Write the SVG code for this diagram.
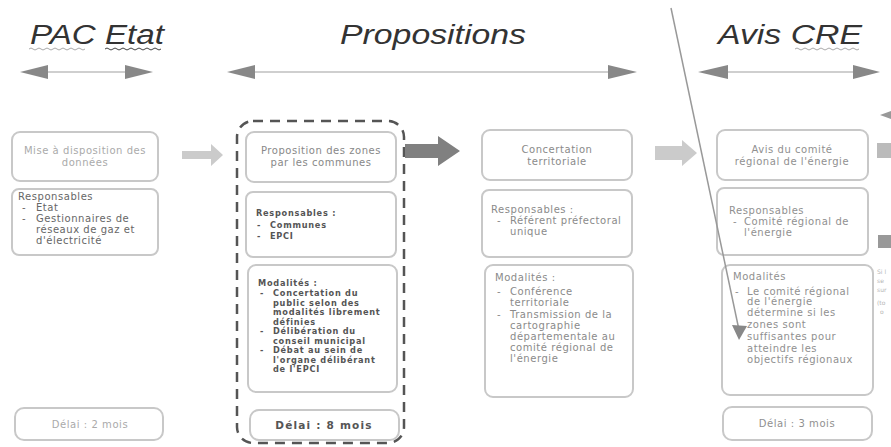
<svg xmlns="http://www.w3.org/2000/svg" width="891" height="447" viewBox="0 0 891 447">
<style>
.hdr{font-family:"Liberation Sans",Arial,sans-serif;font-style:italic;font-size:27px;fill:#333}
.t{font-family:"DejaVu Sans","Noto Sans",sans-serif;font-size:10px;letter-spacing:0.55px}
.box{fill:#fff;stroke:#c8c8c8;stroke-width:2}
.c1{fill:#aaa}
.c1b{fill:#666}
.c2{fill:#555;font-weight:bold;font-size:8.2px;letter-spacing:0.75px}
.c2d{fill:#555;font-weight:bold;font-size:10.5px;letter-spacing:1.2px}
.c2t{fill:#888}
.c3{fill:#8a8a8a}
.c4{fill:#909090}
.mid{text-anchor:middle}
.head{fill:#888}
.hline{stroke:#cfcfcf;stroke-width:2}
.wave{fill:none;stroke-width:1}
</style>
<rect width="891" height="447" fill="#fff"/>

<g id="headers">
<text class="hdr" x="30" y="44" textLength="134" lengthAdjust="spacingAndGlyphs">PAC Etat</text>
<path class="wave" stroke="#aaa" d="M29,49 q2,-2 4,0 t4,0 t4,0 t4,0 t4,0 t4,0 t4,0 t4,0 t4,0 t4,0 t4,0 t4,0 t4,0 t4,0"/>
<path class="wave" stroke="#444" d="M105,49 q2,-2 4,0 t4,0 t4,0 t4,0 t4,0 t4,0 t4,0 t4,0 t4,0 t4,0 t4,0 t4,0 t4,0 t4,0"/>
<text class="hdr" x="340" y="44" textLength="186" lengthAdjust="spacingAndGlyphs">Propositions</text>
<text class="hdr" x="718" y="44" textLength="144" lengthAdjust="spacingAndGlyphs">Avis CRE</text>
<path class="wave" stroke="#aaa" d="M795,49 q2,-2 4,0 t4,0 t4,0 t4,0 t4,0 t4,0 t4,0 t4,0 t4,0 t4,0 t4,0 t4,0 t4,0 t4,0 t4,0 t4,0"/>
</g>

<g id="pac-etat">
<rect class="box" x="12" y="132" width="146" height="49" rx="8"/>
<text class="t c1 mid" x="85" y="154">Mise à disposition des</text>
<text class="t c1 mid" x="85" y="166">données</text>
<rect class="box" x="12" y="189" width="146" height="66" rx="7"/>
<text class="t c1b" x="18" y="200">Responsables</text>
<text class="t c1b" x="22" y="211">-</text><text class="t c1b" x="36" y="211">Etat</text>
<text class="t c1b" x="22" y="222">-</text><text class="t c1b" x="36" y="222">Gestionnaires de</text>
<text class="t c1b" x="36" y="233">réseaux de gaz et</text>
<text class="t c1b" x="36" y="244">d'électricité</text>
<rect class="box" x="15" y="408" width="148" height="32" rx="9"/>
<text class="t c1 mid" x="90" y="428">Délai : 2 mois</text>
</g>

<g id="propositions">
<rect x="237" y="121" width="167" height="322" rx="16" fill="none" stroke="#555" stroke-width="2.5" stroke-dasharray="10,7"/>
<rect class="box" x="246" y="132" width="150" height="50" rx="8" stroke="#c0c0c0"/>
<text class="t c2t mid" x="321" y="154">Proposition des zones</text>
<text class="t c2t mid" x="321" y="166">par les communes</text>
<rect class="box" x="246" y="192" width="150" height="65" rx="7" stroke="#c0c0c0"/>
<text class="t c2" x="256" y="216">Responsables :</text>
<text class="t c2" x="257" y="228">-</text><text class="t c2" x="270" y="228">Communes</text>
<text class="t c2" x="257" y="239">-</text><text class="t c2" x="270" y="239">EPCI</text>
<rect class="box" x="248" y="265" width="149" height="127" rx="8" stroke="#c0c0c0"/>
<text class="t c2" x="258" y="286">Modalités :</text>
<text class="t c2" x="260" y="296">-</text><text class="t c2" x="273" y="296">Concertation du</text>
<text class="t c2" x="273" y="305.5">public selon des</text>
<text class="t c2" x="273" y="315">modalités librement</text>
<text class="t c2" x="273" y="324.5">définies</text>
<text class="t c2" x="260" y="334">-</text><text class="t c2" x="273" y="334">Délibération du</text>
<text class="t c2" x="273" y="343.5">conseil municipal</text>
<text class="t c2" x="260" y="353">-</text><text class="t c2" x="273" y="353">Débat au sein de</text>
<text class="t c2" x="273" y="362.5">l'organe délibérant</text>
<text class="t c2" x="273" y="372">de l'EPCI</text>
<rect class="box" x="250" y="410" width="149" height="30" rx="9" stroke="#c0c0c0"/>
<text class="t c2d mid" x="324" y="429">Délai : 8 mois</text>
</g>

<g id="concertation">
<rect class="box" x="482" y="130" width="150" height="50" rx="8" stroke="#777"/>
<text class="t c3 mid" x="557" y="153">Concertation</text>
<text class="t c3 mid" x="557" y="165">territoriale</text>
<rect class="box" x="482" y="190" width="150" height="67" rx="7"/>
<text class="t c3" x="491" y="213">Responsables :</text>
<text class="t c3" x="497" y="224">-</text><text class="t c3" x="510" y="224">Référent préfectoral</text>
<text class="t c3" x="510" y="235">unique</text>
<rect class="box" x="485" y="265" width="148" height="132" rx="8"/>
<text class="t c3" x="495" y="281">Modalités :</text>
<text class="t c3" x="497" y="295">-</text><text class="t c3" x="510" y="295">Conférence</text>
<text class="t c3" x="510" y="306">territoriale</text>
<text class="t c3" x="497" y="318">-</text><text class="t c3" x="510" y="318">Transmission de la</text>
<text class="t c3" x="510" y="329">cartographie</text>
<text class="t c3" x="510" y="340">départementale au</text>
<text class="t c3" x="510" y="351">comité régional de</text>
<text class="t c3" x="510" y="362">l'énergie</text>
</g>

<g id="avis-cre">
<rect class="box" x="717" y="130" width="151" height="50" rx="8"/>
<text class="t c4 mid" x="792" y="153">Avis du comité</text>
<text class="t c4 mid" x="792" y="165">régional de l'énergie</text>
<rect class="box" x="717" y="188" width="151" height="67" rx="7"/>
<text class="t c4" x="729" y="214">Responsables</text>
<text class="t c4" x="733" y="225">-</text><text class="t c4" x="744" y="225">Comité régional de</text>
<text class="t c4" x="744" y="236">l'énergie</text>
<rect class="box" x="722" y="265" width="151" height="130" rx="8"/>
<text class="t c4" x="733" y="280">Modalités</text>
<text class="t c4" x="735" y="295">-</text><text class="t c4" x="747" y="295">Le comité régional</text>
<text class="t c4" x="747" y="305">de l'énergie</text>
<text class="t c4" x="747" y="316">détermine si les</text>
<text class="t c4" x="747" y="328">zones sont</text>
<text class="t c4" x="747" y="340">suffisantes pour</text>
<text class="t c4" x="747" y="352">atteindre les</text>
<text class="t c4" x="747" y="363">objectifs régionaux</text>
<rect class="box" x="723" y="407" width="149" height="33" rx="9"/>
<text class="t c4 mid" x="797" y="427">Délai : 3 mois</text>
</g>

<g id="edge-text" font-family="DejaVu Sans, sans-serif" font-size="6" fill="#b5b5b5">
<text x="877" y="274">Si l</text>
<text x="877" y="283">se</text>
<text x="877" y="292">sur</text>
<text x="877" y="305">(to</text>
<text x="880" y="314">o</text>
</g>

<g id="connectors">
<line class="hline" x1="48" y1="72" x2="125" y2="72"/>
<polygon class="head" points="20,72 48,65 48,79"/>
<polygon class="head" points="153,72 125,65 125,79"/>
<line class="hline" x1="255" y1="72" x2="608" y2="72"/>
<polygon class="head" points="227,72 255,65 255,79"/>
<polygon class="head" points="637,72 608,65 608,79"/>
<line class="hline" x1="728" y1="72" x2="853" y2="72"/>
<polygon class="head" points="698,72 728,65 728,79"/>
<polygon class="head" points="880,72 853,65 853,79"/>
<polygon fill="#cbcbcb" points="182,151 211,151 211,144 223,155 211,166 211,159 182,159"/>
<polygon fill="#808080" points="405,144 438,144 438,136 460,151 438,166 438,158 405,158"/>
<polygon fill="#cbcbcb" points="655,146 682,146 682,140 697,153 682,166 682,160 655,160"/>
<polygon fill="#999" points="880,115 891,111 891,119"/>
<rect x="877" y="143" width="14" height="15" fill="#bbb"/>
<rect x="878" y="235" width="13" height="13" fill="#999"/>
<line x1="671" y1="8" x2="739" y2="330" stroke="#999" stroke-width="1.5"/>
<polygon fill="#888" points="732,325 747,326 739,340"/>
</g>
</svg>
